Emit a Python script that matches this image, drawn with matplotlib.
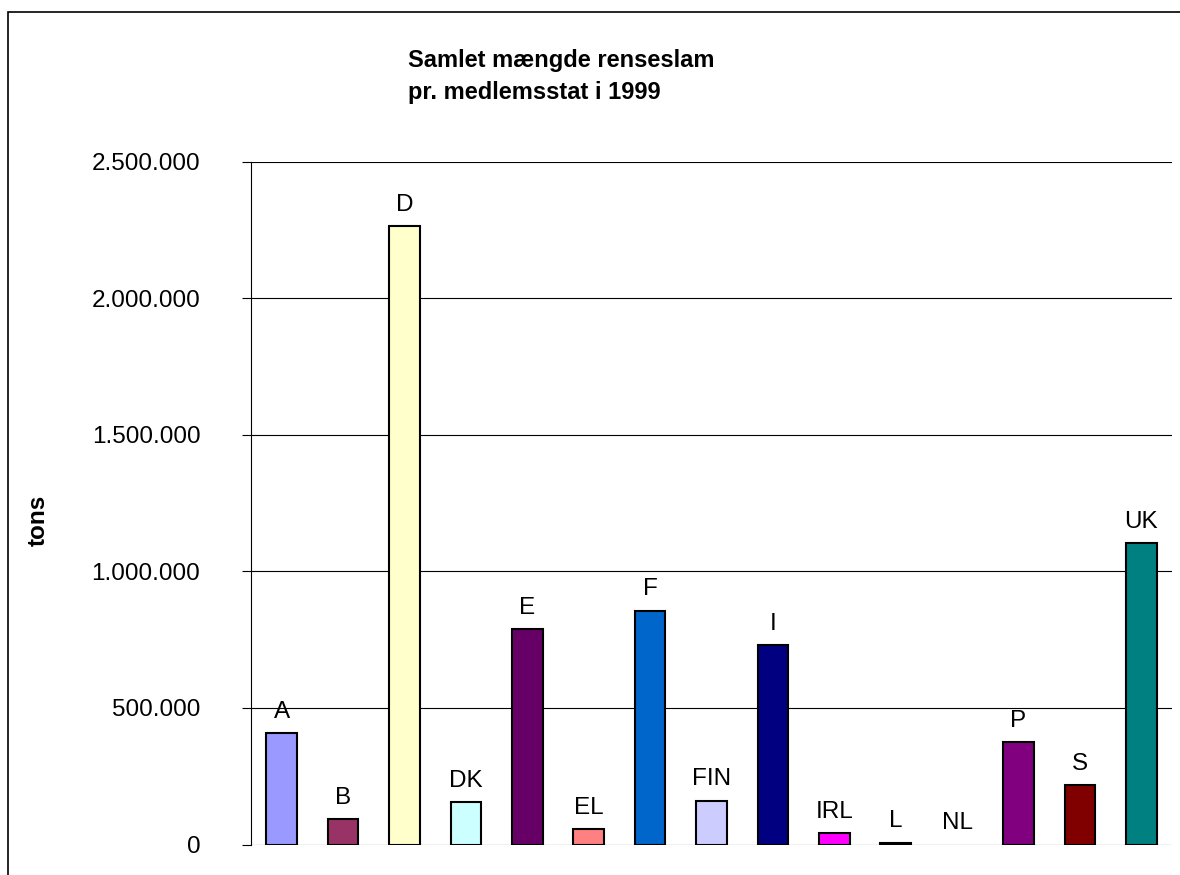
import matplotlib.pyplot as plt
from matplotlib.patches import Rectangle
from matplotlib.ticker import FuncFormatter

countries = ['A', 'B', 'D', 'DK', 'E', 'EL', 'F', 'FIN', 'I', 'IRL', 'L', 'NL', 'P', 'S', 'UK']
tons = [409000, 92000, 2265000, 155600, 787700, 56700, 855800, 160300,
        730000, 41000, 7000, 0, 374000, 217800, 1102600]
colors = ['#9999FF', '#993366', '#FFFFCC', '#CCFFFF', '#660066', '#FF8080', '#0066CC',
          '#CCCCFF', '#000080', '#FF00FF', '#FFFF00', '#00FFFF', '#800080', '#800000', '#008080']
yticks = [0, 500000, 1000000, 1500000, 2000000, 2500000]

plt.rcParams['font.family'] = ['Liberation Sans', 'DejaVu Sans']

W, H = 1180, 875
fig = plt.figure(figsize=(W / 100, H / 100), dpi=100)
ax = fig.add_axes([251 / W, (H - 844.5) / H, (1172 - 251) / W, (844.5 - 161.7) / H])

x = range(len(countries))
edge_w = [1.5 if v > 0 else 0 for v in tons]
ax.bar(x, tons, width=0.5, color=colors, edgecolor='black', linewidth=edge_w, zorder=3)
for xi, name, v in zip(x, countries, tons):
    ax.annotate(name, (xi, v), xytext=(0, 11), textcoords='offset points',
                ha='center', va='baseline', fontsize=17.5, zorder=4)

ax.set_xlim(-0.5, len(countries) - 0.5)
ax.set_ylim(0, 2500000)
ax.set_yticks(yticks)
ax.yaxis.set_major_formatter(FuncFormatter(lambda v, p: f'{int(v):,}'.replace(',', '.')))
ax.tick_params(axis='y', length=6.5, width=0.8, pad=30, labelsize=17.5, color='black')
ax.set_xticks([])
ax.yaxis.grid(True, color='black', linewidth=0.8, zorder=0)
for s in ['top', 'right', 'bottom']:
    ax.spines[s].set_visible(False)
ax.spines['left'].set_linewidth(0.8)

fig.text(408 / W, 1 - 66.7 / H, 'Samlet mængde renseslam', fontsize=17,
         fontweight='bold', ha='left', va='baseline')
fig.text(408 / W, 1 - 99.5 / H, 'pr. medlemsstat i 1999', fontsize=17,
         fontweight='bold', ha='left', va='baseline')
fig.text(38 / W, 1 - 520 / H, 'tons', fontsize=17.5, fontweight='bold',
         rotation=90, ha='center', va='center')

fig.patches.append(Rectangle((8 / W, -0.05), 1.1, 1 - 12 / H + 0.05, transform=fig.transFigure,
                             fill=False, edgecolor='black', linewidth=1.2))

fig.savefig('out.png', dpi=100)
